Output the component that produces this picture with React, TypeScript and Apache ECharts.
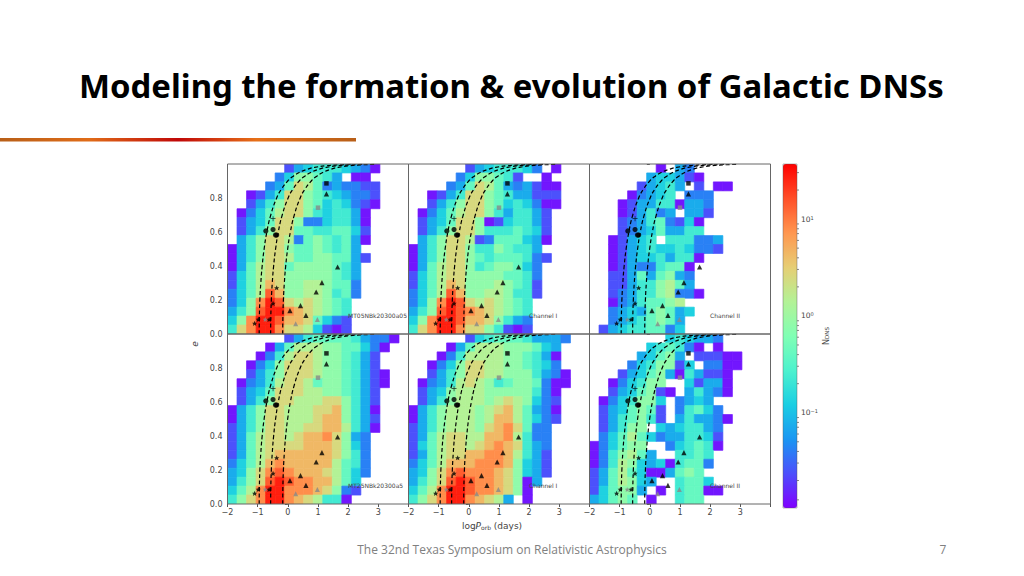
import React, { useEffect, useRef } from "react";
import * as echarts from "echarts";

const LEVELS: Record<string, number> = { "0": 0.013, "1": 0.024, "2": 0.042, "3": 0.074, "4": 0.13, "5": 0.23, "6": 0.41, "7": 0.8, "8": 1.4, "9": 2.5, a: 4.4, b: 7.9, c: 14, d: 27 };

// 19 rows from the top of e (first) down to e = 0 (last); 19 logP bins; "." is an empty bin
const panelA = ["......1345554320...", ".....2477653.00....", "....236986232211...", "..01359976543221...", "..13579976454210...", ".02468997545530....", ".13469972245530....", ".13579966556641....", ".35799826765630....", "03579976676563.....", "035799866776631....", "03689967777653.....", "14689977777653.....", "1468a977887662.....", "2468ca77887562.....", "247bdc9898765......", "357cddba98765......", "47bddcaa96421......", "59bddb9984101......"];
const panelB = ["......13455542.0...", ".....2477651..0....", "....236986323100...", "..01359976533111...", "..13579976454200...", ".02468997535531....", ".13469970145531....", ".13579975556541....", ".35799812666430....", "03579975576553.....", "035799765666521....", "03689975677642.....", "14689977776652.....", "1468a977787651.....", "2468ca77887551.....", "247bdc9898765......", "357cdcba98765......", "47bddcaa97532......", "59bddb9975101......"];
const panelC = [".......0.32........", "......344310.......", ".....13453.1.00....", "....02345.222......", "...0133550332......", "...013523.331......", "...123562140.......", "...123463355.......", "..01345.555223.....", "..013454454221.....", "..0134453550.......", "..013225660........", "..113636732........", "..113557863........", "..1235578220.......", "..02356678.........", "..234367634........", "..23456763.........", ".134556624........."];
const panelD = ["......135666653220.", "....0368887766420..", "...0258998776531...", "..02479998776531...", "..135799987765310..", ".0235899867765310..", ".134699988776531...", ".135799888997531...", "03579988899a7530...", "0357998889aa7531...", "1357998899aa8530...", "13689989aab9732....", "13689999aaa9742....", "13689aaaaaa9752....", "2468abaaaaa8652....", "3479bcbaaa98642....", "3579cdcbbaa864.....", "468bddbbba9721.....", "579bddba98550......"];
const panelE = ["......14566653332..", "....036888777643...", "...0258888776530...", "..02479988776542...", "..135799887775320..", ".0235898756776200..", ".134788877777520...", ".135788878987421...", "0357888789a86320...", "035788878aa86421...", "135788879ab9622....", "13689988aab8522....", "14689989aba9532....", "136899aabba8531....", "2468aaabbba7431....", "3479bcbbba97431....", "3579cdcbba9703.....", "468bddcbba970......", "579bddba983.0......"];
const panelF = ["........454332.....", "......456520.0.....", ".....34673.11100...", "....2457714.2200...", "...134673053110....", "..024577..41330....", "..1346710.35320....", ".0245774.2343......", ".1346761.25642.....", ".1356751.353320....", ".13577.4345532.....", ".2468642335541.....", "024677..245650.....", "0257863..5565......", "0258743405662......", "136864003676.......", "1368743..5664......", "146773.0.56600.....", "34676.0..566......."];
const panels = [panelA, panelB, panelC, panelD, panelE, panelF];
const panelLabels = ["MT05NBk20300a05", "Channel I", "Channel II", "MT25NBk20300a5", "Channel I", "Channel II"];

const circles = [[-0.73, 0.606], [-0.49, 0.614], [-0.41, 0.582], [-0.37, 0.582]];
const plusses = [[-0.49, 0.678]];
const stars = [[-0.37, 0.272], [-1.1, 0.063], [-0.98, 0.086], [-0.62, 0.086], [-0.49, 0.18]];
const triangles = [[1.28, 0.824], [1.65, 0.394], [1.13, 0.302], [0.94, 0.247], [0.42, 0.167], [0.07, 0.137], [0.6, 0.11]];
const greyTriangles = [[0.26, 0.061], [0.98, 0.086]];
const greyStars = [[-0.75, 0.086]];
const greySquares = [[1.0, 0.743]];
const squares = [[1.28, 0.886]];

const curveE = [0, 0.1, 0.2, 0.3, 0.4, 0.5, 0.6, 0.7, 0.8, 0.85, 0.9, 0.93, 0.95, 0.97, 0.98, 0.99, 0.995, 0.998];
const curveLeft = [-0.95, -0.944, -0.927, -0.896, -0.851, -0.786, -0.696, -0.566, -0.37, -0.219, -0.003, 0.191, 0.377, 0.662, 0.89, 1.283, 1.676, 2.11];
const curveMid = [-0.57, -0.564, -0.547, -0.516, -0.471, -0.406, -0.316, -0.186, 0.01, 0.161, 0.377, 0.571, 0.757, 1.042, 1.27, 1.663, 2.056, 2.49];
const curveRight = [-0.17, -0.164, -0.147, -0.116, -0.071, -0.006, 0.084, 0.214, 0.41, 0.561, 0.777, 0.971, 1.157, 1.442, 1.67, 2.063, 2.456, 2.89];

const minorLog = [-1.9, -1.7, -1.52, -1.4, -1.3, -1.22, -1.15, -1.1, -1.05, -0.7, -0.52, -0.4, -0.3, -0.22, -0.15, -0.1, -0.05, 0.3, 0.48, 0.6, 0.7, 0.78, 0.85, 0.9, 0.95, 1.3, 1.48];
const rainbow = ["#8000ff", "#4d4ffc", "#1a96f2", "#1acee3", "#4df2ce", "#80ffb4", "#b3f296", "#e6ce74", "#ff964f", "#ff4f28", "#ff0000"];
const LOG_MIN = -1.984, LOG_MAX = 1.569;

const STAR = "path://M0 -10L2.9 -3.1L9.5 -3.1L4.7 1.2L5.9 8.1L0 4.5L-5.9 8.1L-4.7 1.2L-9.5 -3.1L-2.9 -3.1Z";
const PLUS = "path://M8.5 0L11.5 0L11.5 8.5L20 8.5L20 11.5L11.5 11.5L11.5 20L8.5 20L8.5 11.5L0 11.5L0 8.5L8.5 8.5Z";
const TEXT = "#444";
const FONT = "DejaVu Sans";
const panelW = 181, panelH = 170;
const lefts = [227.5, 408.5, 589.5], tops = [164, 334];

function buildOption() {
  const grid: any[] = [], xAxis: any[] = [], yAxis: any[] = [], series: any[] = [], graphic: any[] = [];
  const cellIdx: number[] = [];
  panels.forEach((rows, p) => {
    const col = p % 3, row = Math.floor(p / 3);
    grid.push({ left: lefts[col], top: tops[row], width: panelW, height: panelH });
    xAxis.push({
      type: "value", gridIndex: p, min: -2, max: 4, interval: 1,
      axisLine: { show: false }, splitLine: { show: false },
      axisTick: { show: row === 1, length: 3, lineStyle: { color: "#555" } },
      axisLabel: { show: row === 1, fontSize: 8, color: TEXT, fontFamily: FONT, margin: 4, formatter: (v: number) => (v >= 4 ? "" : String(v).replace("-", "\u2212")) },
    });
    yAxis.push({
      type: "value", gridIndex: p, min: 0, max: 1, interval: 0.2,
      axisLine: { show: false }, splitLine: { show: false },
      axisTick: { show: true, length: 3, lineStyle: { color: "#555" } },
      axisLabel: { show: col === 0, fontSize: 8, color: TEXT, fontFamily: FONT, margin: 5, formatter: (v: number) => (v >= 1 ? "" : v.toFixed(1)) },
    });
    const cells: number[][] = [];
    rows.forEach((r, i) => {
      const e0 = (18 - i) / 19, e1 = (19 - i) / 19;
      for (let k = 0; k < r.length; k++) {
        const c = r[k];
        if (c === ".") continue;
        cells.push([-2 + (k * 6) / 19, -2 + ((k + 1) * 6) / 19, e0, e1, Math.log10(LEVELS[c])]);
      }
    });
    cellIdx.push(series.length);
    series.push({
      type: "custom", xAxisIndex: p, yAxisIndex: p, data: cells, silent: true, clip: true, z: 1,
      encode: { x: [0, 1], y: [2, 3] },
      renderItem: (_: any, api: any) => {
        const a = api.coord([api.value(0), api.value(2)]);
        const b = api.coord([api.value(1), api.value(3)]);
        const color = api.visual("color");
        return { type: "rect", shape: { x: a[0], y: b[1], width: b[0] - a[0], height: a[1] - b[1] }, style: { fill: color, stroke: color, lineWidth: 0.7 } };
      },
    });
    [curveLeft, curveMid, curveRight].forEach((xs) => {
      series.push({
        type: "line", xAxisIndex: p, yAxisIndex: p, data: xs.map((x, i) => [x, curveE[i]]), smooth: true, showSymbol: false, silent: true, z: 3, clip: true,
        lineStyle: { color: "#000", width: 1.2, type: [4, 2.5] },
      });
    });
    const marks: [number[][], any, number, string][] = [
      [circles, "circle", 5.2, "#000"], [plusses, PLUS, 5, "#000"], [stars, STAR, 5.2, "#000"], [triangles, "triangle", 5.2, "#000"],
      [squares, "rect", 4.5, "#000"], [greyTriangles, "triangle", 5, "#888"], [greyStars, STAR, 5, "#888"], [greySquares, "rect", 4.5, "#888"],
    ];
    marks.forEach(([pts, symbol, size, color]) => {
      series.push({ type: "scatter", xAxisIndex: p, yAxisIndex: p, data: pts, symbol, symbolSize: size, silent: true, z: 4, itemStyle: { color } });
    });
    graphic.push({ type: "rect", z: 50, shape: { x: lefts[col], y: tops[row], width: panelW, height: panelH }, style: { fill: "none", stroke: "#666", lineWidth: 1 }, silent: true });
    graphic.push({
      type: "text", z: 51, x: lefts[col] + 120.5, y: tops[row] + 151,
      style: { text: panelLabels[p], fontSize: 6, fill: "#444", fontFamily: FONT, textVerticalAlign: "middle" },
    });
  });

  // colour bar axis, in log10(N_DNS)
  grid.push({ left: 783, top: 164, width: 14, height: 344 });
  xAxis.push({ type: "value", gridIndex: 6, min: 0, max: 1, show: false });
  yAxis.push({
    type: "value", gridIndex: 6, position: "right", min: LOG_MIN, max: LOG_MAX,
    axisLine: { show: false }, splitLine: { show: false },
    axisTick: { show: true, length: 3.5, customValues: [-1, 0, 1], lineStyle: { color: "#555" } },
    axisLabel: {
      show: true, margin: 4, color: TEXT, fontFamily: FONT, customValues: [-1, 0, 1],
      formatter: (v: number) => `{b|10}{s|${String(Math.round(v)).replace("-", "\u2212")}}`,
      rich: { b: { fontSize: 7.5, color: TEXT, fontFamily: FONT }, s: { fontSize: 5, color: TEXT, fontFamily: FONT, verticalAlign: "top", padding: [0, 0, 3, 0] } },
    },
  });
  series.push({
    type: "custom", xAxisIndex: 6, yAxisIndex: 6, data: minorLog.map((v) => [1, v]), silent: true, clip: false, z: 5,
    encode: { x: 0, y: 1 },
    renderItem: (_: any, api: any) => {
      const a = api.coord([1, api.value(1)]);
      return { type: "line", shape: { x1: a[0], y1: a[1], x2: a[0] + 2, y2: a[1] }, style: { stroke: "#555", lineWidth: 0.7 } };
    },
  });
  graphic.push(
    { type: "rect", z: 50, silent: true, shape: { x: 783, y: 164, width: 14, height: 344 }, style: { fill: "none", stroke: "rgba(90,90,90,0.6)", lineWidth: 0.7 } },
    { type: "text", x: 79, y: 85, style: { text: "Modeling the formation & evolution of Galactic DNSs", fontFamily: "Noto Sans", fontWeight: "bold", fontSize: 32.9, fill: "#000", textVerticalAlign: "middle" } },
    { type: "rect", shape: { x: 0, y: 138, width: 356, height: 3.6 }, style: { fill: new echarts.graphic.LinearGradient(0, 0, 1, 0, [{ offset: 0, color: "#b85f18" }, { offset: 0.25, color: "#e06c18" }, { offset: 0.5, color: "#c00808" }, { offset: 0.72, color: "#e67018" }, { offset: 1, color: "#b85f18" }]) } },
    { type: "text", x: 512, y: 549, style: { text: "The 32nd Texas Symposium on Relativistic Astrophysics", fontFamily: "Open Sans", fontSize: 12, fill: "#808080", textAlign: "center", textVerticalAlign: "middle" } },
    { type: "text", x: 943, y: 549, style: { text: "7", fontFamily: "Open Sans", fontSize: 12, fill: "#808080", textAlign: "center", textVerticalAlign: "middle" } },
    { type: "text", x: 492, y: 526, style: { text: "{a|log}{i|P}{s|orb}{a| (days)}", textAlign: "center", textVerticalAlign: "middle", rich: { a: { fontSize: 9, fill: TEXT, fontFamily: FONT }, i: { fontSize: 9, fill: TEXT, fontFamily: FONT, fontStyle: "italic" }, s: { fontSize: 6, fill: TEXT, fontFamily: FONT, verticalAlign: "bottom", padding: [3, 0, 0, 0] } } } },
    { type: "text", x: 195, y: 344, rotation: Math.PI / 2, style: { text: "e", fontStyle: "italic", fontSize: 9, fill: TEXT, fontFamily: FONT, textAlign: "center", textVerticalAlign: "middle" } },
    { type: "text", x: 826, y: 336, rotation: Math.PI / 2, style: { text: "{a|N}{s|DNS}", textAlign: "center", textVerticalAlign: "middle", rich: { a: { fontSize: 8, fill: TEXT, fontFamily: FONT }, s: { fontSize: 5.5, fill: TEXT, fontFamily: FONT, verticalAlign: "bottom", padding: [2, 0, 0, 0] } } } },
  );

  return {
    animation: false, backgroundColor: "#fff", grid, xAxis, yAxis, series, graphic,
    visualMap: {
      type: "continuous", show: true, min: LOG_MIN, max: LOG_MAX, dimension: 4, seriesIndex: cellIdx, calculable: false, hoverLink: false,
      left: 783, top: 164, itemWidth: 14, itemHeight: 344, padding: 0, text: ["", ""], textGap: 0, showLabel: false, inRange: { color: rainbow },
    },
  };
}

export default function App() {
  const ref = useRef<HTMLDivElement>(null);
  useEffect(() => {
    document.body.style.margin = "0";
    const chart = echarts.init(ref.current!, undefined, { renderer: "svg" });
    chart.setOption(buildOption() as any);
    return () => chart.dispose();
  }, []);
  return <div ref={ref} style={{ width: 1024, height: 576 }} />;
}
